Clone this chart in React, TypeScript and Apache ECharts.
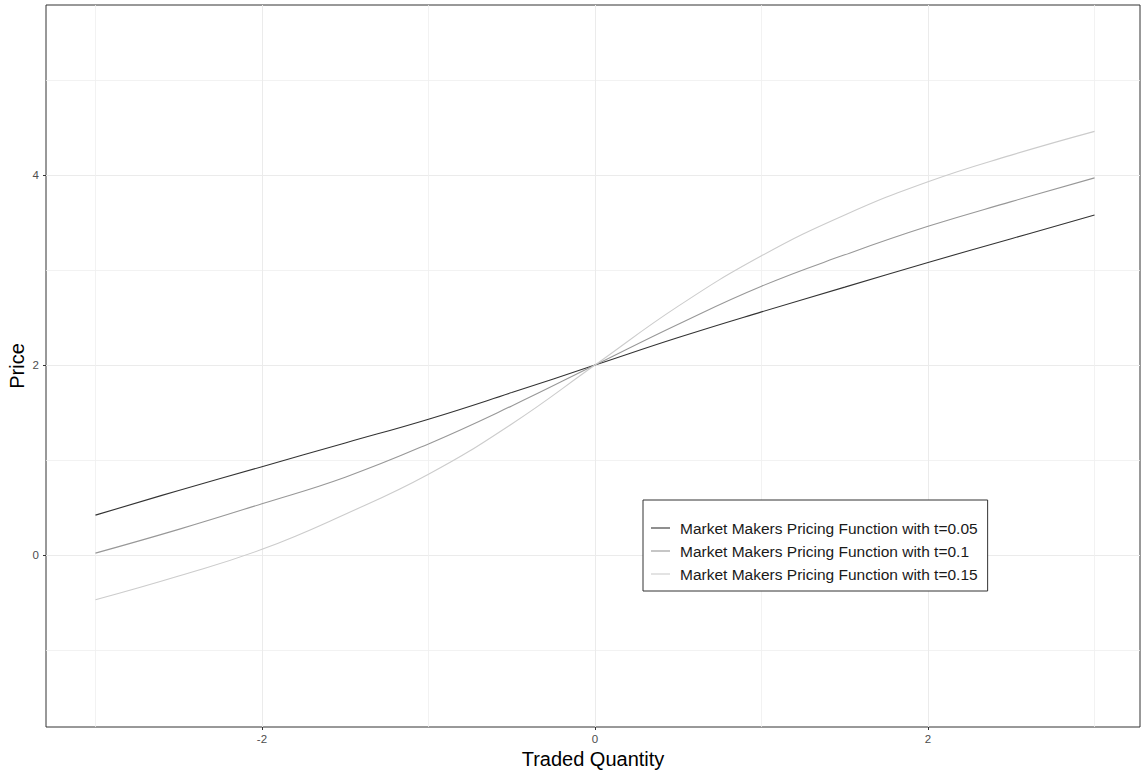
import React, { useEffect, useRef } from 'react';
import * as echarts from 'echarts';

// Traded quantity (x) and price readings for each pricing function
const quantities = [-3, -2.5, -2, -1.5, -1, -0.5, 0, 0.5, 1, 1.5, 2, 2.5, 3];
const priceT005 = [0.42, 0.68, 0.93, 1.18, 1.43, 1.71, 2.0, 2.29, 2.56, 2.82, 3.08, 3.33, 3.58];
const priceT010 = [0.02, 0.27, 0.54, 0.82, 1.17, 1.57, 2.0, 2.43, 2.83, 3.16, 3.46, 3.72, 3.97];
const priceT015 = [-0.47, -0.22, 0.06, 0.43, 0.85, 1.38, 2.0, 2.62, 3.15, 3.58, 3.93, 4.21, 4.46];

const seriesNames = [
  'Market Makers Pricing Function with t=0.05',
  'Market Makers Pricing Function with t=0.1',
  'Market Makers Pricing Function with t=0.15',
];
const seriesValues = [priceT005, priceT010, priceT015];
const seriesColors = ['#333333', '#989898', '#CCCCCC'];

const xTitle = 'Traded Quantity';
const yTitle = 'Price';
const xRange = [-3.297, 3.273];
const yRange = [-1.81, 5.79];

const FONT = '"Liberation Sans", Arial, sans-serif';

const evenLabel = (v: number) => (Math.abs(v / 2 - Math.round(v / 2)) < 1e-9 ? String(Math.round(v)) : '');

export default function App() {
  const ref = useRef<HTMLDivElement>(null);
  useEffect(() => {
    document.body.style.margin = '0';
    if (!ref.current) return;
    const chart = echarts.init(ref.current, undefined, { renderer: 'svg' });
    const gridLine = { show: true, lineStyle: { color: '#EBEBEB', width: 1 }, showMinLine: false, showMaxLine: false };
    const minorGrid = { show: true, lineStyle: { color: '#EFEFEF', width: 0.8 } };
    chart.setOption({
      animation: false,
      backgroundColor: '#ffffff',
      textStyle: { fontFamily: FONT },
      grid: {
        left: 46,
        right: 1,
        top: 5,
        bottom: 45,
        containLabel: false,
        outerBoundsMode: 'none',
        show: true,
        borderColor: '#333333',
        borderWidth: 1,
        backgroundColor: '#ffffff',
      },
      legend: {
        orient: 'vertical',
        left: 643,
        top: 500,
        padding: [20, 10, 9, 8],
        itemGap: 7,
        itemWidth: 19,
        itemHeight: 14,
        icon: 'path://M0,0 L19,0 L19,1.1 L0,1.1 Z',
        itemStyle: { borderWidth: 0 },
        backgroundColor: '#ffffff',
        borderColor: '#333333',
        borderWidth: 1,
        borderRadius: 0,
        textStyle: { fontSize: 15.5, lineHeight: 16, color: '#1A1A1A', fontFamily: FONT, padding: [0, 0, 0, 5] },
        data: seriesNames,
      },
      xAxis: {
        type: 'value',
        min: xRange[0],
        max: xRange[1],
        splitNumber: 3,
        axisLine: { show: false, onZero: false },
        axisTick: { show: true, length: 3, lineStyle: { color: '#333333' } },
        axisLabel: { formatter: evenLabel, color: '#4D4D4D', fontSize: 11.5, margin: 6, fontFamily: FONT, showMinLabel: false, showMaxLabel: false },
        splitLine: gridLine,
        minorTick: { show: false, splitNumber: 2 },
        minorSplitLine: minorGrid,
        name: xTitle,
        nameLocation: 'middle',
        nameGap: 22,
        nameMoveOverlap: false,
        nameTextStyle: { fontSize: 20, color: '#000000', fontFamily: FONT },
      },
      yAxis: {
        type: 'value',
        min: yRange[0],
        max: yRange[1],
        splitNumber: 4,
        axisLine: { show: false, onZero: false },
        axisTick: { show: true, length: 3, lineStyle: { color: '#333333' } },
        axisLabel: { formatter: evenLabel, color: '#4D4D4D', fontSize: 11.5, margin: 7, fontFamily: FONT, showMinLabel: false, showMaxLabel: false },
        splitLine: gridLine,
        minorTick: { show: false, splitNumber: 2 },
        minorSplitLine: minorGrid,
        name: yTitle,
        nameLocation: 'middle',
        nameGap: 19,
        nameMoveOverlap: false,
        nameTextStyle: { fontSize: 20, color: '#000000', fontFamily: FONT },
      },
      series: seriesNames.map((name, i) => ({
        name,
        type: 'line',
        symbol: 'none',
        smooth: 0.45,
        silent: true,
        color: seriesColors[i],
        lineStyle: { color: seriesColors[i], width: 1.1 },
        data: quantities.map((q, j) => [q, seriesValues[i][j]]),
      })),
    });
    return () => chart.dispose();
  }, []);
  return <div ref={ref} style={{ width: 1141, height: 772 }} />;
}
